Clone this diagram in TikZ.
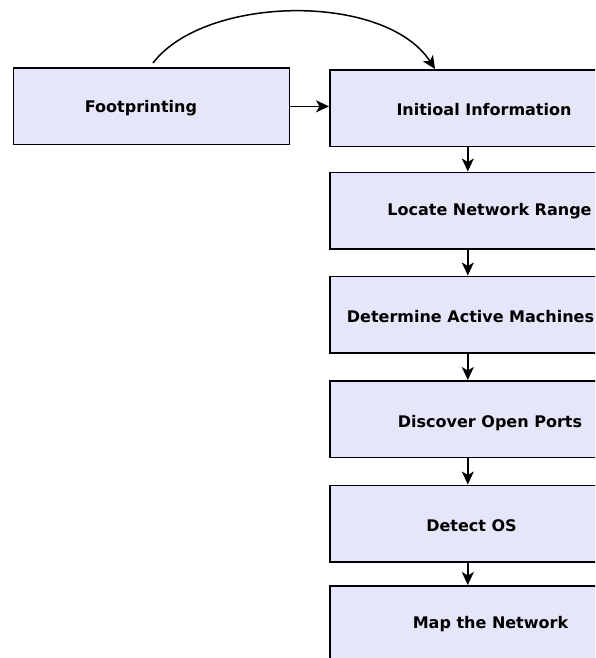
\documentclass[tikz,border=0pt]{standalone}
\usepackage{fontspec}
\setmainfont{DejaVu Sans}
\usetikzlibrary{arrows.meta}
\definecolor{boxfill}{RGB}{230,230,250}
\tikzset{
  stepbox/.style={draw=black, fill=boxfill, line width=1.6pt, rectangle,
    minimum width=276pt, minimum height=76.5pt, inner sep=0pt, anchor=north west},
  steplabel/.style={inner sep=0pt, font=\fontsize{16}{19}\selectfont\bfseries},
  flow/.style={line width=1.5pt, -{Stealth[length=13pt, width=12pt, inset=3.5pt]}}
}
\begin{document}
\begin{tikzpicture}[x=1pt, y=-1pt]
  \useasboundingbox (0,0) rectangle (595,658);
  \clip (0,0) rectangle (595,658);

  % boxes
  \node[stepbox] (fp) at (12.7,67.3) {};
  \node[stepbox] (b2) at (329,69) {};
  \node[stepbox] (b3) at (329,171.5) {};
  \node[stepbox] (b4) at (329,275.5) {};
  \node[stepbox] (b5) at (329,380) {};
  \node[stepbox] (b6) at (329,484.5) {};
  \node[stepbox, minimum height=90pt] (b7) at (329,585) {};

  % labels
  \node[steplabel] (tfp) at (141,108.5) {Footprinting};
  \node[steplabel] (t2) at (484,109.5) {Initioal Information};
  \node[steplabel] (t3) at (489.5,211.5) {Locate Network Range};
  \node[steplabel] (t4) at (470.5,316.5) {Determine Active Machines};
  \node[steplabel] (t5) at (490,423.5) {Discover Open Ports};
  \node[steplabel] (t6) at (471.5,525.5) {Detect OS};
  \node[steplabel] (t7) at (490.5,624.5) {Map the Network};

  % connectors
  \draw[flow] (fp.east) -- (fp.east -| b2.west);
  \coordinate (cs) at (153,63);
  \coordinate (ce) at (435,69);
  \draw[flow] (cs) .. controls (205,-5) and (385,-8) .. (ce);
  \draw[flow] (b2.south) -- (b3.north);
  \draw[flow] (b3.south) -- (b4.north);
  \draw[flow] (b4.south) -- (b5.north);
  \draw[flow] (b5.south) -- (b6.north);
  \draw[flow] (b6.south) -- (b7.north);
\end{tikzpicture}
\end{document}
